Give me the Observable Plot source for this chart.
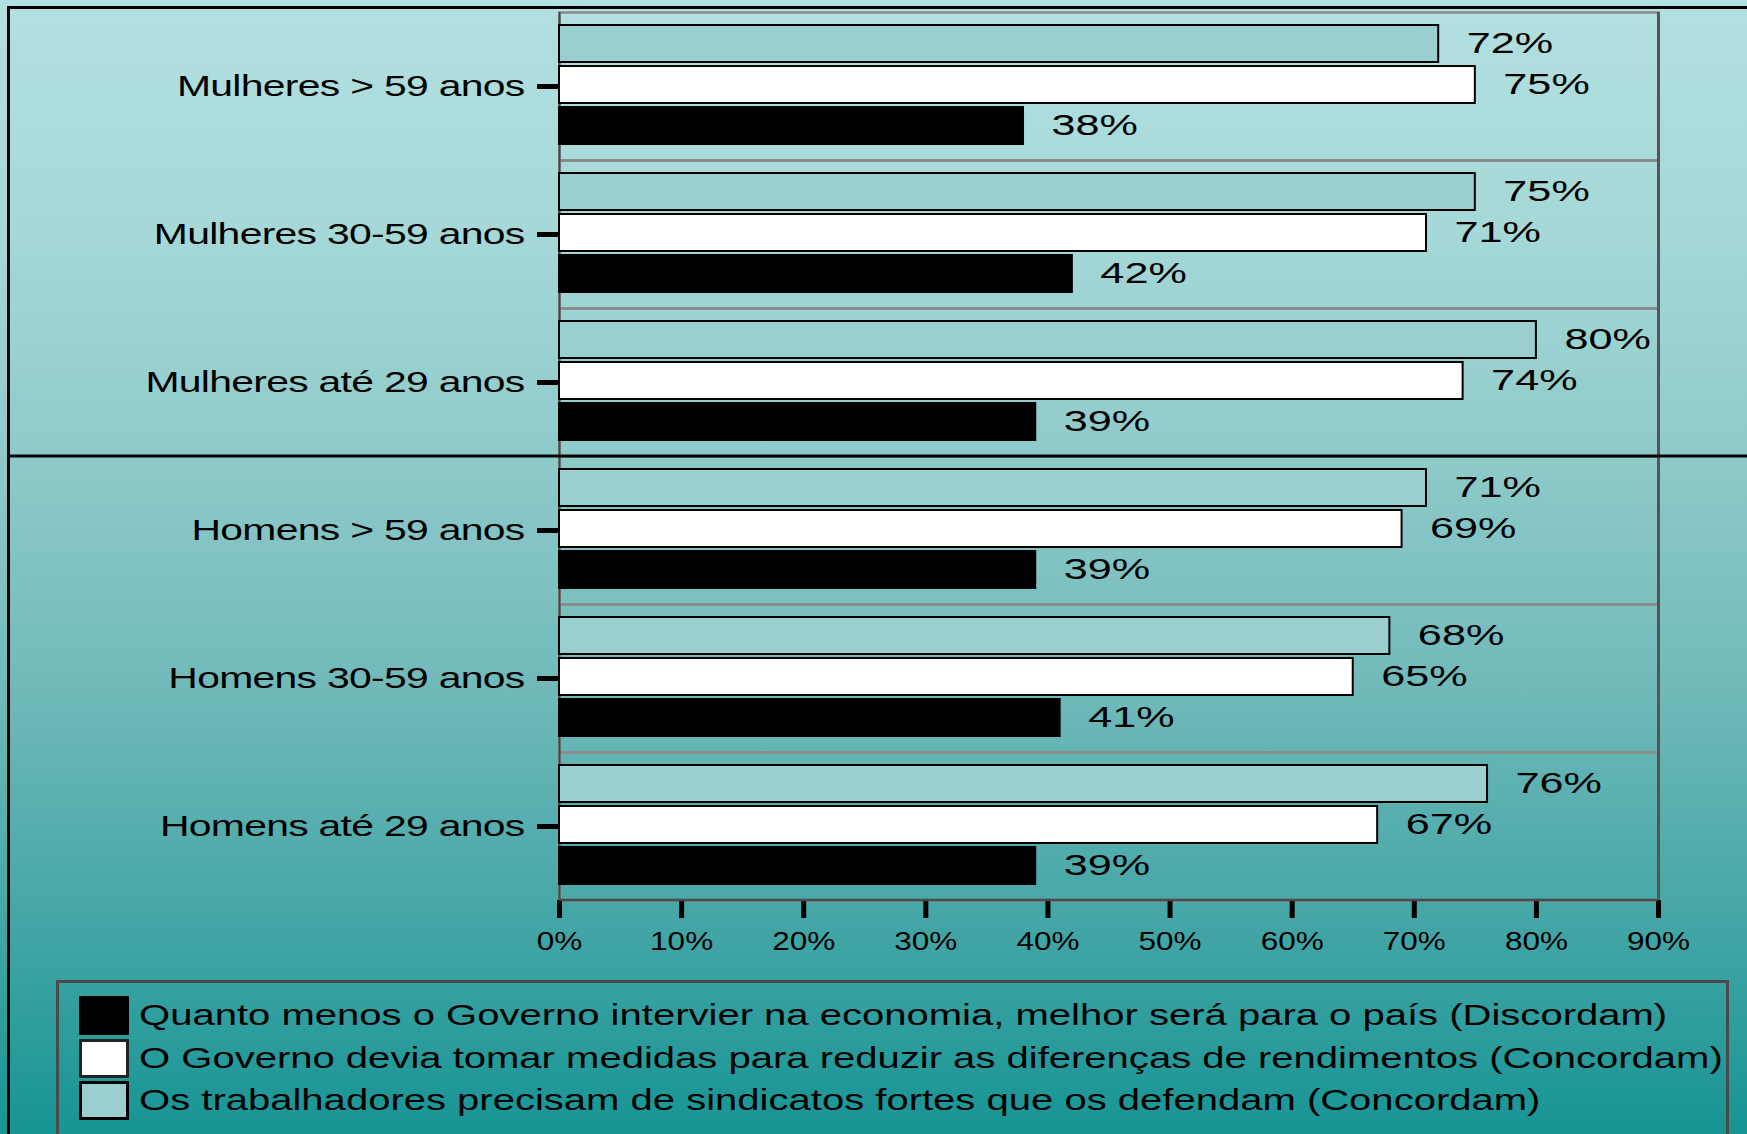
<!DOCTYPE html>
<html lang="pt">
<head>
<meta charset="utf-8">
<title>Opiniões sobre o papel do Governo e dos sindicatos, por sexo e idade</title>
<script src="https://cdn.jsdelivr.net/npm/d3@7"></script>
<script src="https://cdn.jsdelivr.net/npm/@observablehq/plot@0.6"></script>
<style>
  html, body { margin: 0; padding: 0; }
  body { font-family: "Liberation Sans", Arial, sans-serif; }
  #page {
    position: relative;
    width: 1747px;
    height: 1134px;
    overflow: hidden;
    background: linear-gradient(to bottom,
      #b3e0e0 0%, #a6d8d8 20%, #8fcaca 40%, #72baba 60%, #47a7a7 80%, #179494 100%);
  }
  #frame {
    position: absolute;
    left: 7px; top: 6px; right: -20px; bottom: -20px;
    border-top: 3px solid #000;
    border-left: 3.5px solid #000;
  }
  #chart { position: absolute; left: 0; top: 0; }
  #legend {
    position: absolute;
    left: 56px; top: 980px;
    width: 1673px; height: 200px;
    box-sizing: border-box;
    border: 3px solid #4a4a4a;
    padding: 13px 0 0 20px;
  }
  .row { display: flex; align-items: flex-start; height: 42.5px; }
  .swatch {
    width: 50px; height: 39px; box-sizing: border-box;
    border: 3px solid #000; border-radius: 1px; flex: none;
  }
  .label {
    margin-left: 10px;
    font-size: 29px; line-height: 39px;
    white-space: nowrap; color: #000;
    transform: scaleX(1.38); transform-origin: left center;
  }
</style>
</head>
<body>
<div id="page">
  <div id="frame"></div>
  <div id="chart"></div>
  <div id="legend"></div>
</div>
<script>
// Population groups, top to bottom
const groups = [
  "Mulheres > 59 anos",
  "Mulheres 30-59 anos",
  "Mulheres até 29 anos",
  "Homens > 59 anos",
  "Homens 30-59 anos",
  "Homens até 29 anos"
];

// Statements, in legend order
const statements = [
  "Quanto menos o Governo intervier na economia, melhor será para o país (Discordam)",
  "O Governo devia tomar medidas para reduzir as diferenças de rendimentos (Concordam)",
  "Os trabalhadores precisam de sindicatos fortes que os defendam (Concordam)"
];
const statementColors = ["#000000", "#ffffff", "#9bcfcf"];

// Bar order inside each group, top to bottom
const barOrder = [statements[2], statements[1], statements[0]];

// Percentages per group (same order as groups)
const menosGoverno = [38, 42, 39, 39, 41, 39];
const reduzirDiferencas = [75, 71, 74, 69, 65, 67];
const sindicatosFortes = [72, 75, 80, 71, 68, 76];

// x-axis ticks
const xTicks = [0, 10, 20, 30, 40, 50, 60, 70, 80, 90];

const seriesValues = [menosGoverno, reduzirDiferencas, sindicatosFortes];
const rows = groups.flatMap((g, i) =>
  statements.map((s, k) => ({group: g, statement: s, value: seriesValues[k][i]}))
);

const font = "'Liberation Sans', Arial, Helvetica, sans-serif";

const chart = Plot.plot({
  width: 1747,
  height: 975,
  marginLeft: 559,
  marginRight: 89,
  marginTop: 10,
  marginBottom: 73,
  style: {background: "transparent", fontFamily: font, color: "#000", overflow: "visible"},
  x: {domain: [0, 90], axis: null},
  y: {domain: barOrder, axis: null, paddingInner: 0.1, paddingOuter: 0.33, align: 0.45},
  fy: {domain: groups, padding: 0, axis: null, label: null},
  color: {domain: statements, range: statementColors},
  marks: [
    Plot.frame({stroke: "#8a8a8a", strokeWidth: 2.5}),
    Plot.ruleX([0], {stroke: "#444", strokeWidth: 2}),
    Plot.ruleX([90], {stroke: "#555", strokeWidth: 3}),
    Plot.barX(rows, {
      x: "value", y: "statement", fy: "group",
      fill: "statement", stroke: "#000", strokeWidth: 2
    }),
    Plot.text(rows, {
      x: "value", y: "statement", fy: "group",
      text: d => `${d.value}%`,
      dx: 28, dy: -1, textAnchor: "start", fontSize: 30, fill: "#000"
    }),
    Plot.axisFy({
      anchor: "left", label: null, tickSize: 22, tickPadding: 13,
      fontSize: 29, stroke: "#000", strokeWidth: 5, color: "#000"
    }),
    Plot.axisX({
      anchor: "bottom", label: null, ticks: xTicks, tickSize: 18, tickPadding: 14,
      fontSize: 25, stroke: "#000", strokeWidth: 5, color: "#000",
      tickFormat: d => `${d}%`
    })
  ]
});

// Wide lettering: stretch each label horizontally around its anchor point
function stretch(svg, selector, sx, spacing) {
  svg.querySelectorAll(selector).forEach(t => {
    let tr = t.getAttribute("transform");
    if (tr == null) {
      const x = +t.getAttribute("x") || 0, y = +t.getAttribute("y") || 0;
      t.removeAttribute("x");
      t.removeAttribute("y");
      tr = `translate(${x},${y})`;
    }
    t.setAttribute("transform", `${tr} scale(${sx},1)`);
    if (spacing) t.setAttribute("letter-spacing", spacing);
  });
}
stretch(chart, 'g[aria-label="fy-axis tick label"] text', 1.41, "-0.5px");
stretch(chart, 'g[aria-label="x-axis tick label"] text', 1.26);
stretch(chart, 'g[aria-label="text"] text', 1.44);

const svg = d3.select(chart);
const xs = chart.scale("x");
const fy = chart.scale("fy");

// Darker bottom edge of the plotting area
const yBottom = fy.apply(groups[groups.length - 1]) + fy.bandwidth;
svg.append("line")
  .attr("x1", xs.apply(0)).attr("x2", xs.apply(90))
  .attr("y1", yBottom).attr("y2", yBottom)
  .attr("stroke", "#4a4a4a").attr("stroke-width", 2.5);

// Black divider between the women's and the men's groups
const yDivider = fy.apply("Homens > 59 anos");
svg.append("line")
  .attr("x1", 9).attr("x2", 1747)
  .attr("y1", yDivider).attr("y2", yDivider)
  .attr("stroke", "#000").attr("stroke-width", 3);

document.getElementById("chart").append(chart);

// Legend box below the plot
const legend = d3.select("#legend");
statements.forEach((s, k) => {
  const row = legend.append("div").attr("class", "row");
  row.append("div").attr("class", "swatch")
    .style("background", statementColors[k])
    .style("border-color", k === 1 ? "#222" : "#000");
  row.append("span").attr("class", "label").text(s);
});
</script>
</body>
</html>
